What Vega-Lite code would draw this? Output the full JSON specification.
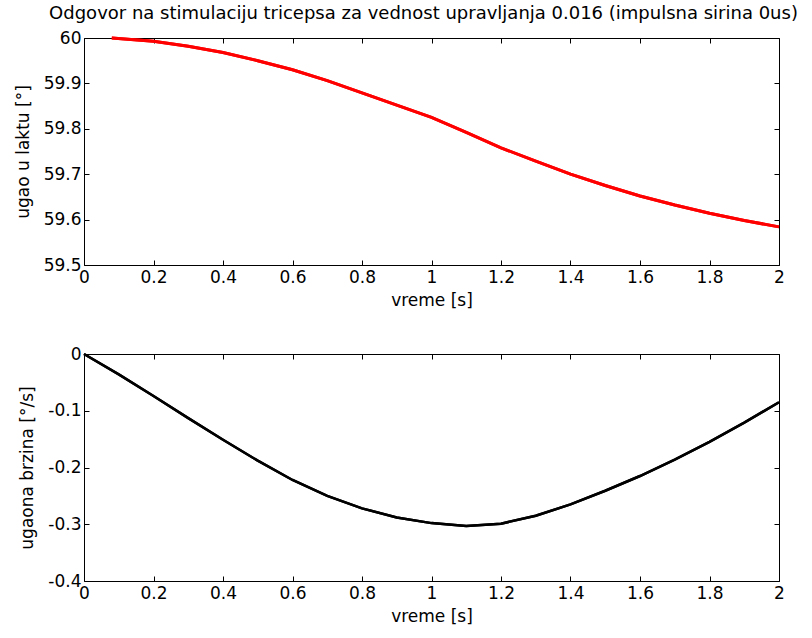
{
  "$schema": "https://vega.github.io/schema/vega-lite/v6.json",
  "background": "white",
  "padding": {"left": 13, "top": 4, "right": 5, "bottom": 5},
  "spacing": 35,
  "datasets": {
    "angle": [
      {"t": 0.08, "v": 60.0},
      {"t": 0.2, "v": 59.993},
      {"t": 0.3, "v": 59.982},
      {"t": 0.4, "v": 59.968},
      {"t": 0.5, "v": 59.95},
      {"t": 0.6, "v": 59.93},
      {"t": 0.7, "v": 59.906},
      {"t": 0.8, "v": 59.879},
      {"t": 0.9, "v": 59.852},
      {"t": 1.0, "v": 59.825},
      {"t": 1.1, "v": 59.792},
      {"t": 1.2, "v": 59.758},
      {"t": 1.3, "v": 59.729},
      {"t": 1.4, "v": 59.7},
      {"t": 1.5, "v": 59.675},
      {"t": 1.6, "v": 59.652},
      {"t": 1.7, "v": 59.632},
      {"t": 1.8, "v": 59.614},
      {"t": 1.9, "v": 59.598},
      {"t": 2.0, "v": 59.584}
    ],
    "velocity": [
      {"t": 0.0, "v": 0.0},
      {"t": 0.1, "v": -0.036},
      {"t": 0.2, "v": -0.074},
      {"t": 0.3, "v": -0.113},
      {"t": 0.4, "v": -0.151},
      {"t": 0.5, "v": -0.188},
      {"t": 0.6, "v": -0.222},
      {"t": 0.7, "v": -0.25},
      {"t": 0.8, "v": -0.272},
      {"t": 0.9, "v": -0.288},
      {"t": 1.0, "v": -0.298},
      {"t": 1.1, "v": -0.303},
      {"t": 1.2, "v": -0.299},
      {"t": 1.3, "v": -0.285},
      {"t": 1.4, "v": -0.265},
      {"t": 1.5, "v": -0.241},
      {"t": 1.6, "v": -0.215},
      {"t": 1.7, "v": -0.186},
      {"t": 1.8, "v": -0.155},
      {"t": 1.9, "v": -0.121},
      {"t": 2.0, "v": -0.085}
    ]
  },
  "config": {
    "font": "DejaVu Sans",
    "view": {"stroke": "black", "strokeWidth": 1},
    "axis": {
      "grid": false,
      "domain": false,
      "tickColor": "black",
      "tickSize": -5,
      "labelColor": "black",
      "labelFont": "DejaVu Sans",
      "labelFontSize": 17,
      "titleFont": "DejaVu Sans",
      "titleFontSize": 17,
      "titleFontWeight": "normal",
      "titleColor": "black"
    },
    "title": {"font": "DejaVu Sans", "fontSize": 18, "fontWeight": "normal", "color": "black"}
  },
  "vconcat": [
    {
      "width": 695,
      "height": 227,
      "title": {"text": "Odgovor na stimulaciju tricepsa za vednost upravljanja 0.016 (impulsna sirina 0us)", "offset": 6, "dx": -8},
      "data": {"name": "angle"},
      "resolve": {"axis": {"x": "independent", "y": "independent"}},
      "layer": [
        {
          "mark": {"type": "line", "color": "#ff0000", "strokeWidth": 3},
          "encoding": {
            "x": {"field": "t", "type": "quantitative", "scale": {"domain": [0, 2], "nice": false, "zero": false},
                  "axis": {"title": "vreme [s]", "values": [0, 0.2, 0.4, 0.6, 0.8, 1, 1.2, 1.4, 1.6, 1.8, 2], "format": "~g", "labelPadding": 9, "titlePadding": 7, "labelFlush": false}},
            "y": {"field": "v", "type": "quantitative", "scale": {"domain": [59.5, 60], "nice": false, "zero": false},
                  "axis": {"title": "ugao u laktu [°]", "values": [59.5, 59.6, 59.7, 59.8, 59.9, 60], "format": "~g", "labelPadding": 8, "titlePadding": 11}}
          }
        },
        {
          "mark": {"type": "line", "color": "#ff0000", "strokeWidth": 3},
          "encoding": {
            "x": {"field": "t", "type": "quantitative", "scale": {"domain": [0, 2], "nice": false, "zero": false},
                  "axis": {"orient": "top", "title": null, "labels": false, "values": [0, 0.2, 0.4, 0.6, 0.8, 1, 1.2, 1.4, 1.6, 1.8, 2]}},
            "y": {"field": "v", "type": "quantitative", "scale": {"domain": [59.5, 60], "nice": false, "zero": false},
                  "axis": {"orient": "right", "title": null, "labels": false, "values": [59.5, 59.6, 59.7, 59.8, 59.9, 60]}}
          }
        }
      ]
    },
    {
      "width": 695,
      "height": 227,
      "data": {"name": "velocity"},
      "resolve": {"axis": {"x": "independent", "y": "independent"}},
      "layer": [
        {
          "mark": {"type": "line", "color": "black", "strokeWidth": 2.5},
          "encoding": {
            "x": {"field": "t", "type": "quantitative", "scale": {"domain": [0, 2], "nice": false, "zero": false},
                  "axis": {"title": "vreme [s]", "values": [0, 0.2, 0.4, 0.6, 0.8, 1, 1.2, 1.4, 1.6, 1.8, 2], "format": "~g", "labelPadding": 9, "titlePadding": 7, "labelFlush": false}},
            "y": {"field": "v", "type": "quantitative", "scale": {"domain": [-0.4, 0], "nice": false, "zero": false},
                  "axis": {"title": "ugaona brzina [°/s]", "values": [-0.4, -0.3, -0.2, -0.1, 0], "labelExpr": "datum.value == 0 ? '0' : (datum.value < 0 ? '-' : '') + format(abs(datum.value), '~g')", "labelPadding": 8, "titlePadding": 11}}
          }
        },
        {
          "mark": {"type": "line", "color": "black", "strokeWidth": 2.5},
          "encoding": {
            "x": {"field": "t", "type": "quantitative", "scale": {"domain": [0, 2], "nice": false, "zero": false},
                  "axis": {"orient": "top", "title": null, "labels": false, "values": [0, 0.2, 0.4, 0.6, 0.8, 1, 1.2, 1.4, 1.6, 1.8, 2]}},
            "y": {"field": "v", "type": "quantitative", "scale": {"domain": [-0.4, 0], "nice": false, "zero": false},
                  "axis": {"orient": "right", "title": null, "labels": false, "values": [-0.4, -0.3, -0.2, -0.1, 0]}}
          }
        }
      ]
    }
  ]
}
